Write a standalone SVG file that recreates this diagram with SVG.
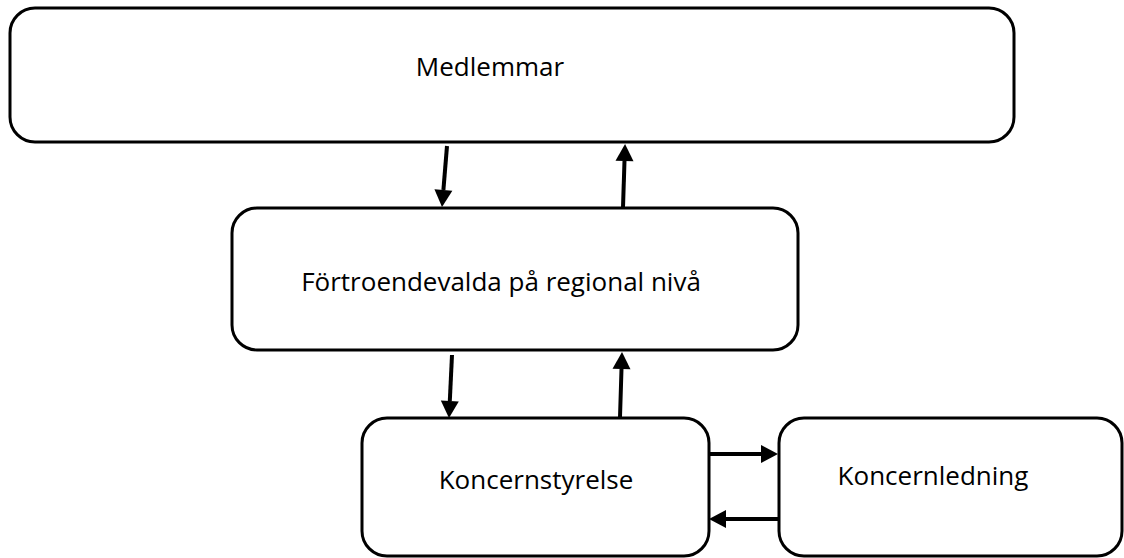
<svg xmlns="http://www.w3.org/2000/svg" width="1124" height="558" viewBox="0 0 1124 558">
  <style>
    .box { fill: #ffffff; stroke: #000000; stroke-width: 3; }
    .label { font-family: "Open Sans", "Noto Sans", "DejaVu Sans", sans-serif; font-size: 26px; fill: #000000; text-anchor: middle; }
    .conn { stroke: #000000; stroke-width: 4; fill: none; marker-end: url(#head); }
  </style>
  <defs>
    <marker id="head" markerUnits="userSpaceOnUse" markerWidth="18" markerHeight="20" viewBox="0 -10 18 20" refX="0" refY="0" orient="auto" overflow="visible">
      <path d="M0,-9 L17,0 L0,9 Z" fill="#000000"/>
    </marker>
  </defs>
  <rect width="1124" height="558" fill="#ffffff"/>

  <g id="medlemmar">
    <rect class="box" x="10" y="8" width="1004" height="134" rx="25" ry="25"/>
    <text class="label" x="490" y="76">Medlemmar</text>
  </g>

  <g id="fortroendevalda">
    <rect class="box" x="232" y="208" width="566" height="142" rx="25" ry="25"/>
    <text class="label" x="501" y="291">Förtroendevalda på regional nivå</text>
  </g>

  <g id="koncernstyrelse">
    <rect class="box" x="362" y="418" width="347" height="138" rx="25" ry="25"/>
    <text class="label" x="536" y="489">Koncernstyrelse</text>
  </g>

  <g id="koncernledning">
    <rect class="box" x="779" y="418" width="343" height="138" rx="25" ry="25"/>
    <text class="label" x="933" y="485">Koncernledning</text>
  </g>

  <g id="connectors">
    <line class="conn" x1="447" y1="146" x2="443.4" y2="190"/>
    <line class="conn" x1="623" y1="207" x2="624.5" y2="161"/>
    <line class="conn" x1="452" y1="355" x2="449.8" y2="401"/>
    <line class="conn" x1="620" y1="417" x2="621.5" y2="369"/>
    <line class="conn" x1="709" y1="454" x2="761" y2="454"/>
    <line class="conn" x1="778" y1="519" x2="726" y2="519"/>
  </g>
</svg>
